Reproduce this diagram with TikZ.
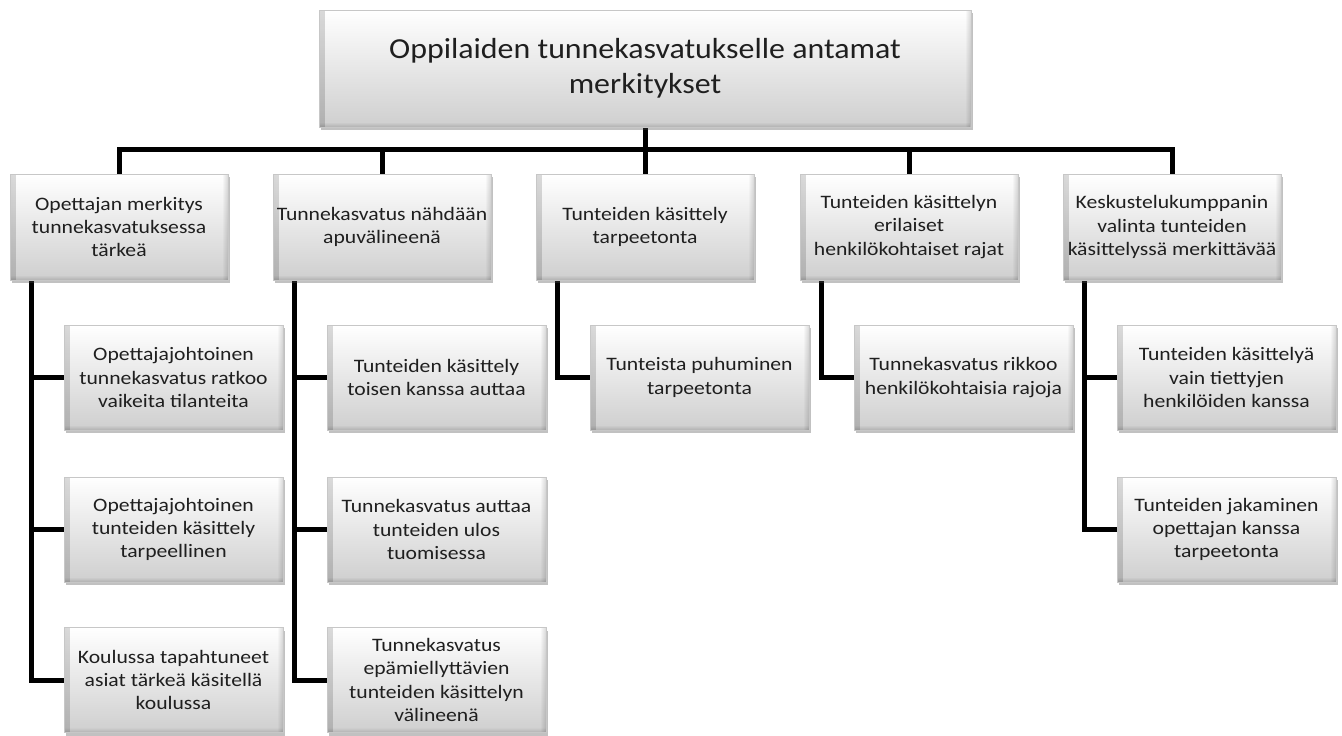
\documentclass[tikz,border=0pt]{standalone}
\usepackage{fontspec}
\setmainfont[FakeStretch=1.14]{Carlito}
\usetikzlibrary{shadows,backgrounds,fadings}
\newfontfamily\rootfont[FakeStretch=1.10]{Carlito}
\tikzset{
  boxbase/.style={rectangle, align=center, inner sep=0pt, text=black!88,
    top color=white, bottom color=black!19, draw=black!22, line width=0.6pt,
    drop shadow={shadow xshift=1.5pt, shadow yshift=-3pt, opacity=0.35, fill=black!70},
    path picture={
      \fill[black, opacity=0.15, path fading=east]
        (path picture bounding box.south west) rectangle ([xshift=6pt]path picture bounding box.north west);
      \fill[black, opacity=0.15, path fading=west]
        (path picture bounding box.south east) rectangle ([xshift=-6pt]path picture bounding box.north east);
      \fill[black, opacity=0.14, path fading=north]
        (path picture bounding box.south west) rectangle ([yshift=5pt]path picture bounding box.south east);
    }},
  rootbox/.style={boxbase, minimum width=652pt, minimum height=117pt,
    font=\rootfont\fontsize{29}{35}\selectfont},
  catbox/.style={boxbase, minimum width=218pt, minimum height=106pt,
    font=\fontsize{19}{23.3}\selectfont},
  subbox/.style={boxbase, minimum width=219pt, minimum height=105pt,
    font=\fontsize{19}{23.3}\selectfont},
  link/.style={line width=5pt, black, line cap=butt}
}
\begin{document}
\begin{tikzpicture}[x=1pt,y=-1pt]
\useasboundingbox (0,0) rectangle (1342,736);

\node[rootbox] (root) at (645,68.5) {Oppilaiden tunnekasvatukselle antamat\\merkitykset};

\node[catbox] (c1) at (119,227) {Opettajan merkitys\\tunnekasvatuksessa\\tärkeä};
\node[catbox] (c2) at (382,227) {Tunnekasvatus nähdään\\apuvälineenä};
\node[catbox] (c3) at (645,227) {Tunteiden käsittely\\tarpeetonta};
\node[catbox] (c4) at (909,227) {Tunteiden käsittelyn\\erilaiset\\henkilökohtaiset rajat};
\node[catbox] (c5) at (1172,227) {Keskustelukumppanin\\valinta tunteiden\\käsittelyssä merkittävää};

\node[subbox] (c1a) at (173.5,377.5) {Opettajajohtoinen\\tunnekasvatus ratkoo\\vaikeita tilanteita};
\node[subbox] (c1b) at (173.5,529.5) {Opettajajohtoinen\\tunteiden käsittely\\tarpeellinen};
\node[subbox] (c1c) at (173.5,680) {Koulussa tapahtuneet\\asiat tärkeä käsitellä\\koulussa};

\node[subbox] (c2a) at (436.5,377.5) {Tunteiden käsittely\\toisen kanssa auttaa};
\node[subbox] (c2b) at (436.5,529.5) {Tunnekasvatus auttaa\\tunteiden ulos\\tuomisessa};
\node[subbox] (c2c) at (436.5,680) {Tunnekasvatus\\epämiellyttävien\\tunteiden käsittelyn\\välineenä};

\node[subbox] (c3a) at (699.5,377.5) {Tunteista puhuminen\\tarpeetonta};

\node[subbox] (c4a) at (963.5,377.5) {Tunnekasvatus rikkoo\\henkilökohtaisia rajoja};

\node[subbox] (c5a) at (1226.5,377.5) {Tunteiden käsittelyä\\vain tiettyjen\\henkilöiden kanssa};
\node[subbox] (c5b) at (1226.5,529.5) {Tunteiden jakaminen\\opettajan kanssa\\tarpeetonta};

\begin{scope}[on background layer]
  \draw[link] (root.south) -- (c3.north);
  \draw[link] (c1.north) -- ++(0,-24) -| (c5.north);
  \draw[link] (c2.north) -- ++(0,-24);
  \draw[link] (c4.north) -- ++(0,-24);
  \draw[link] ([xshift=22pt]c1.south west) |- (c1c.west);
  \draw[link] ([xshift=22pt]c1.south west) |- (c1a.west);
  \draw[link] ([xshift=22pt]c1.south west) |- (c1b.west);
  \draw[link] ([xshift=22pt]c2.south west) |- (c2c.west);
  \draw[link] ([xshift=22pt]c2.south west) |- (c2a.west);
  \draw[link] ([xshift=22pt]c2.south west) |- (c2b.west);
  \draw[link] ([xshift=22pt]c3.south west) |- (c3a.west);
  \draw[link] ([xshift=22pt]c4.south west) |- (c4a.west);
  \draw[link] ([xshift=22pt]c5.south west) |- (c5b.west);
  \draw[link] ([xshift=22pt]c5.south west) |- (c5a.west);
\end{scope}
\end{tikzpicture}
\end{document}
